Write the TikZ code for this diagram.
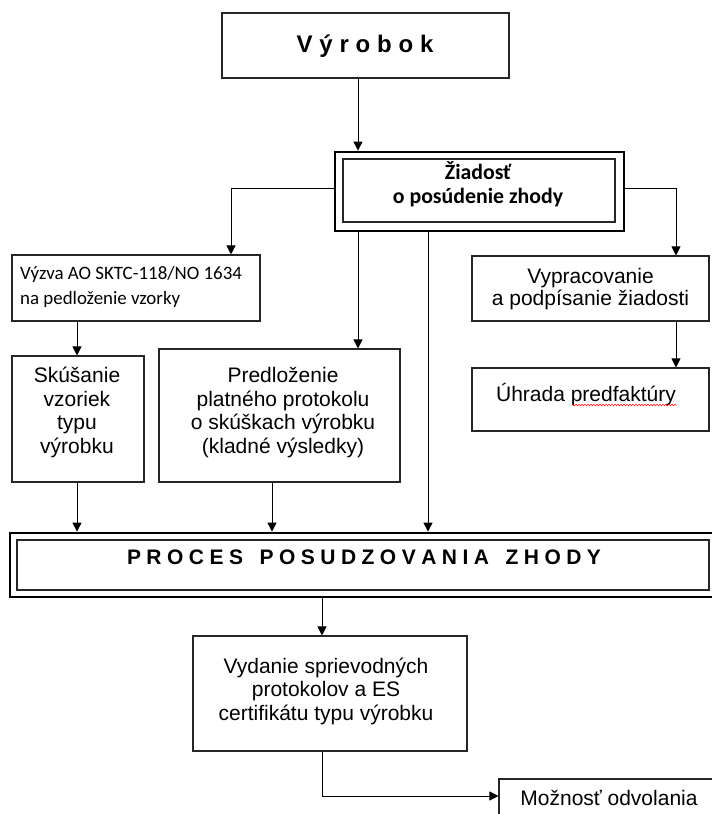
\documentclass[tikz,border=0pt]{standalone}
\usepackage{fontspec}
\setmainfont{Liberation Sans}
\newfontfamily\calibri{Carlito}
\usetikzlibrary{arrows.meta,decorations.pathmorphing}
\begin{document}
\begin{tikzpicture}[x=1pt,y=-1pt,
  box/.style={draw=black!85, line width=1.1pt, rectangle, inner sep=0pt},
  outerbox/.style={draw=black, line width=2.8pt, rectangle, inner sep=0pt},
  txt/.style={inner sep=0pt, font=\fontsize{21}{23.5}\selectfont, align=center, anchor=base},
  arr/.style={draw=black, line width=1pt, -{Triangle[length=9pt,width=9pt]}}]
\useasboundingbox (0,0) rectangle (712,814);

% boxes
\node[box, minimum width=287pt, minimum height=65pt] (vyrobok) at (365.5,45.5) {};
\node[outerbox, minimum width=289pt, minimum height=79pt] (ziadost) at (479.5,191.5) {};
\node[box, minimum width=272pt, minimum height=63pt] (ziadost-in) at (479,190.5) {};
\node[box, minimum width=248pt, minimum height=66pt] (vyzva) at (136,288) {};
\node[box, minimum width=237pt, minimum height=65pt] (vyprac) at (590.5,288.5) {};
\node[box, minimum width=237pt, minimum height=63pt] (uhrada) at (590.5,399.5) {};
\node[box, minimum width=132pt, minimum height=126pt] (skus) at (78,419) {};
\node[box, minimum width=241pt, minimum height=133pt] (predl) at (279.5,415.5) {};
\node[outerbox, minimum width=712pt, minimum height=64pt] (proces) at (366,565) {};
\node[box, minimum width=692pt, minimum height=50pt] (proces-in) at (363,565) {};
\node[box, minimum width=274pt, minimum height=115pt] (vydanie) at (330,693.5) {};
\node[box, minimum width=223pt, minimum height=56pt] (moznost) at (610.5,807) {};

% texts (anchor=base is the baseline of the last line)
\node[txt, font=\fontsize{24}{27}\selectfont\bfseries] (vyrobok-t) at (365,52)
  {\makebox[137pt][s]{V\hfill ý\hfill r\hfill o\hfill b\hfill o\hfill k}};
\node[txt, font=\calibri\bfseries\fontsize{21.8}{24}\selectfont] (ziadost-t) at (478,203)
  {Žiadosť\\o posúdenie zhody};
\node[txt, anchor=base west, align=left, font=\calibri\fontsize{18.9}{25}\selectfont] (vyzva-t) at (20,304)
  {Výzva AO SKTC-118/NO 1634\\na pedloženie vzorky};
\node[txt, font=\fontsize{21}{22}\selectfont] (vyprac-t) at (590.5,305)
  {Vypracovanie\\a podpísanie žiadosti};
\node[txt] (uhrada-t) at (586,401) {Úhrada predfaktúry};
\node[txt] (skus-t) at (77,453) {Skúšanie\\vzoriek\\typu\\výrobku};
\node[txt] (predl-t) at (283,453)
  {Predloženie\\platného protokolu\\o skúškach výrobku\\(kladné výsledky)};
\node[txt, font=\fontsize{21}{24}\selectfont\bfseries] (proces-t) at (364,564)
  {\makebox[474pt][s]{P\hfill R\hfill O\hfill C\hfill E\hfill S\hfill\hfill\hfill
   P\hfill O\hfill S\hfill U\hfill D\hfill Z\hfill O\hfill V\hfill A\hfill N\hfill I\hfill A\hfill\hfill\hfill
   Z\hfill H\hfill O\hfill D\hfill Y}};
\node[txt] (vydanie-t) at (326,720)
  {Vydanie sprievodných\\protokolov a ES\\certifikátu typu výrobku};
\node[txt] (moznost-t) at (609,805) {Možnosť odvolania};

% spell-check squiggle
\draw[red, line width=0.5pt, decorate, decoration={snake, amplitude=0.8pt, segment length=3pt}]
  (572,405) -- (677,405);

% helper coordinates
\coordinate (xA) at (358,0);
\coordinate (xB) at (428,0);
\coordinate (xL) at (231,0);
\coordinate (xR) at (676,0);
\coordinate (x77) at (77,0);
\coordinate (x272) at (272,0);
\coordinate (x322) at (322,0);
\coordinate (yBr) at (0,188);
\coordinate (yM) at (0,796);

% connectors
\draw[arr] (vyrobok.south -| xA) -- (ziadost.north -| xA);
\draw[arr] (ziadost.west |- yBr) -| (vyzva.north -| xL);
\draw[arr] (ziadost.east |- yBr) -| (vyprac.north -| xR);
\draw[arr] (ziadost.south -| xA) -- (predl.north -| xA);
\draw[arr] (ziadost.south -| xB) -- (proces.north -| xB);
\draw[arr] (vyzva.south -| x77) -- (skus.north -| x77);
\draw[arr] (vyprac.south -| xR) -- (uhrada.north -| xR);
\draw[arr] (skus.south -| x77) -- (proces.north -| x77);
\draw[arr] (predl.south -| x272) -- (proces.north -| x272);
\draw[arr] (proces.south -| x322) -- (vydanie.north -| x322);
\draw[arr] (vydanie.south -| x322) |- (moznost.west |- yM);
\end{tikzpicture}
\end{document}
